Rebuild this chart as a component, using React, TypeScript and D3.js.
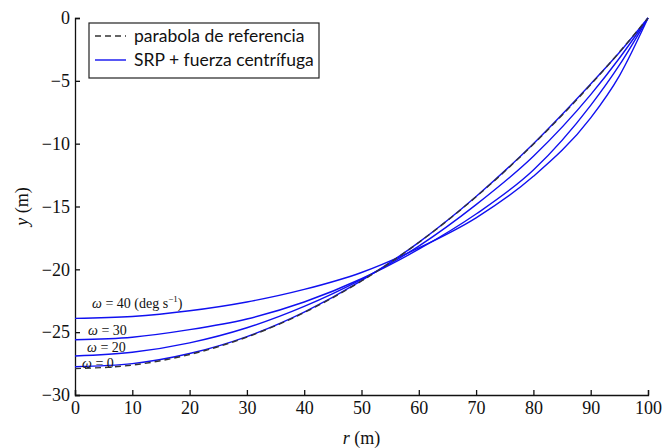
import { useEffect, useRef } from "react";
import * as d3 from "d3";

// radius samples (m)
const radii = [0, 10, 20, 30, 40, 50, 60, 70, 80, 90, 95, 100];

// reference parabola (dashed)
const parabolaY = [-27.9, -27.62, -26.78, -25.39, -23.44, -20.93, -17.86, -14.23, -10.04, -5.3, -2.72, 0];

// SRP + centrifugal force, one series per rotation rate
const omega0Y = [-27.75, -27.5, -26.7, -25.35, -23.4, -20.9, -17.85, -14.2, -10.0, -5.25, -2.75, 0];
const omega20Y = [-26.9, -26.6, -25.85, -24.65, -22.95, -20.8, -18.15, -14.85, -11.0, -6.1, -3.2, 0];
const omega30Y = [-25.6, -25.4, -24.8, -23.95, -22.6, -20.75, -18.4, -15.6, -12.1, -6.95, -3.75, 0];
const omega40Y = [-23.9, -23.75, -23.3, -22.6, -21.6, -20.25, -18.3, -15.9, -12.6, -7.95, -4.6, 0];

const xTicks = [0, 10, 20, 30, 40, 50, 60, 70, 80, 90, 100];
const yTicks = [0, -5, -10, -15, -20, -25, -30];

export default function App() {
  const svgRef = useRef<SVGSVGElement | null>(null);

  useEffect(() => {
    const svg = d3.select(svgRef.current);
    svg.selectAll("*").remove();

    const width = 665, height = 448;
    const margin = { top: 18, right: 17, bottom: 53, left: 75 };
    const innerW = width - margin.left - margin.right;
    const innerH = height - margin.top - margin.bottom;

    const g = svg.append("g").attr("transform", `translate(${margin.left},${margin.top})`);
    const x = d3.scaleLinear().domain([0, 100]).range([0, innerW]);
    const y = d3.scaleLinear().domain([-30, 0]).range([innerH, 0]);

    const serif = "Liberation Serif";

    const xAxis = g.append("g").attr("transform", `translate(0,${innerH})`)
      .call(d3.axisBottom(x).tickValues(xTicks).tickSize(-5).tickSizeOuter(-5).tickPadding(6));
    const yAxis = g.append("g")
      .call(d3.axisLeft(y).tickValues(yTicks).tickSize(-5).tickSizeOuter(-5).tickPadding(5));
    [xAxis, yAxis].forEach(a => {
      a.attr("font-family", serif).attr("font-size", 18);
      a.selectAll("text").attr("fill", "#111").style("font-family", serif);
      a.selectAll("path, line").attr("stroke", "#111").attr("stroke-width", 1.3);
    });

    const line = d3.line<number>()
      .x((_, i) => x(radii[i]))
      .y(d => y(d))
      .curve(d3.curveMonotoneX);

    [omega40Y, omega30Y, omega20Y, omega0Y].forEach(s => {
      g.append("path").datum(s).attr("d", line).attr("fill", "none")
        .attr("stroke", "#1010f0").attr("stroke-width", 1.4);
    });
    g.append("path").datum(parabolaY).attr("d", line).attr("fill", "none")
      .attr("stroke", "#333").attr("stroke-width", 1.4).attr("stroke-dasharray", "6,4");

    // omega labels
    const labels = [
      { v: omega40Y[0], text: "40", unit: true, dx: 17, dy: -10 },
      { v: omega30Y[0], text: "30", unit: false, dx: 13, dy: -5 },
      { v: omega20Y[0], text: "20", unit: false, dx: 12, dy: -4 },
      { v: omega0Y[0], text: "0", unit: false, dx: 7, dy: 1 },
    ];
    labels.forEach(l => {
      const t = g.append("text").attr("x", x(0) + l.dx).attr("y", y(l.v) + l.dy)
        .attr("font-family", serif).attr("font-size", 14).attr("fill", "#111");
      t.append("tspan").style("font-style", "italic").text("ω");
      t.append("tspan").text(` = ${l.text}`);
      if (l.unit) {
        t.append("tspan").attr("font-size", 14).text(" (deg s");
        t.append("tspan").attr("font-size", 9).attr("dy", -6).text("−1");
        t.append("tspan").attr("font-size", 14).attr("dy", 6).text(")");
      }
    });

    // axis titles
    const xt = svg.append("text").attr("x", margin.left + innerW / 2).attr("y", 444)
      .attr("text-anchor", "middle").attr("font-family", serif).attr("font-size", 18).attr("fill", "#111");
    xt.append("tspan").style("font-style", "italic").text("r");
    xt.append("tspan").text(" (m)");
    const yt = svg.append("text").attr("transform", `translate(28,${margin.top + innerH / 2}) rotate(-90)`)
      .attr("text-anchor", "middle").attr("font-family", serif).attr("font-size", 18).attr("fill", "#111");
    yt.append("tspan").style("font-style", "italic").text("y");
    yt.append("tspan").text(" (m)");

    // legend
    const sans = "Lato, 'Open Sans', sans-serif";
    const lg = svg.append("g").attr("transform", "translate(89,23)");
    lg.append("rect").attr("width", 230).attr("height", 55).attr("fill", "white")
      .attr("stroke", "#222").attr("stroke-width", 1.2);
    const items = [
      { label: "parabola de referencia", color: "#333", dash: "6,4" },
      { label: "SRP + fuerza centrífuga", color: "#1010f0", dash: null },
    ];
    items.forEach((it, i) => {
      const cy = 13 + i * 24;
      lg.append("line").attr("x1", 6).attr("x2", 37).attr("y1", cy).attr("y2", cy)
        .attr("stroke", it.color).attr("stroke-width", 1.4).attr("stroke-dasharray", it.dash);
      lg.append("text").attr("x", 45).attr("y", cy + 6).text(it.label)
        .style("font-family", sans).style("font-size", "17.5px").attr("fill", "#111");
    });
  }, []);

  return <svg ref={svgRef} width={665} height={448}
    style={{ position: "absolute", left: 0, top: 0, display: "block", background: "white" }} />;
}
